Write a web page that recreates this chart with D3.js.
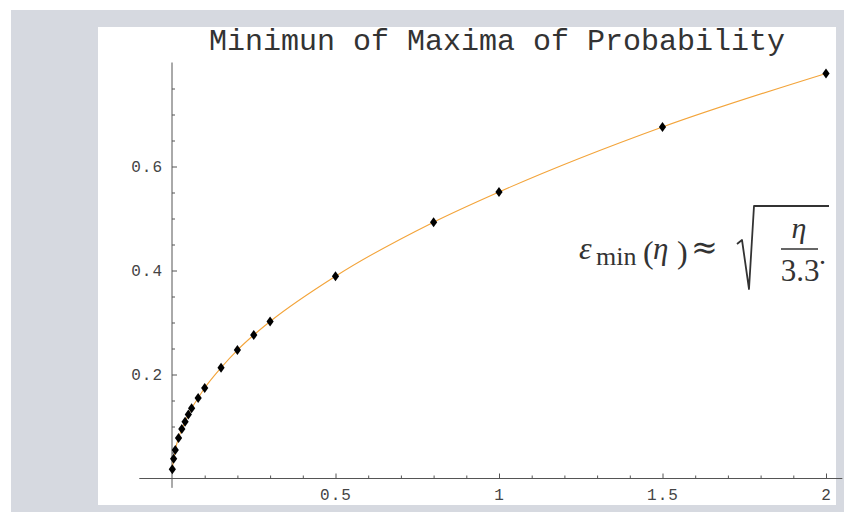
<!DOCTYPE html>
<html lang="en">
<head>
<meta charset="utf-8">
<title>Minimun of Maxima of Probability</title>
<script src="https://d3js.org/d3.v7.min.js"></script>
<style>
    html, body { margin: 0; padding: 0; background: #fff; }
    svg { display: block; }
    .tick text { font-family: "Liberation Mono", "Courier New", monospace; font-size: 16px; fill: #444; letter-spacing: 1px; }
    .tick line { stroke: #555; }
</style>
</head>
<body>
<div id="chart"></div>
<script>
    // data
    var etaValues = [0.001, 0.005, 0.01, 0.02, 0.03, 0.04, 0.05, 0.06, 0.08, 0.1, 0.15, 0.2, 0.25, 0.3, 0.5, 0.8, 1, 1.5, 2];
    var epsValues = [0.018, 0.038, 0.055, 0.078, 0.095, 0.109, 0.123, 0.135, 0.155, 0.174, 0.213, 0.247, 0.276, 0.302, 0.389, 0.493, 0.551, 0.676, 0.779];
    var xTicks = [0.5, 1, 1.5, 2];
    var xTickLabels = ["0.5", "1", "1.5", "2"];
    var yTicks = [0.2, 0.4, 0.6];
    var yTickLabels = ["0.2", "0.4", "0.6"];

    var W = 844, H = 512;
    var svg = d3.select("#chart").append("svg")
        .attr("width", W)
        .attr("height", H);

    // grey frame + white plot panel
    svg.append("rect").attr("x", 11).attr("y", 10).attr("width", W - 11).attr("height", H - 10).attr("fill", "#d6d9e0");
    svg.append("rect").attr("x", 98).attr("y", 27).attr("width", 738).attr("height", 478).attr("fill", "#fff");

    var x = d3.scaleLinear().domain([0, 2]).range([172, 826]);
    var y = d3.scaleLinear().domain([0, 0.8]).range([478.5, 62.5]);

    // title
    svg.append("text")
        .attr("x", 497).attr("y", 50)
        .attr("text-anchor", "middle")
        .style("font-family", "'Liberation Mono', 'Courier New', monospace")
        .style("font-size", "30px")
        .style("fill", "#333")
        .text("Minimun of Maxima of Probability");

    // axis lines
    svg.append("line")
        .attr("x1", x(-0.1)).attr("x2", x(2.05))
        .attr("y1", y(0)).attr("y2", y(0))
        .attr("stroke", "#555");
    svg.append("line")
        .attr("x1", x(0)).attr("x2", x(0))
        .attr("y1", y(-0.018)).attr("y2", y(0.8))
        .attr("stroke", "#555");

    // minor ticks
    var xMinor = d3.range(1, 20).map(function (i) { return i / 10; })
        .filter(function (v) { return xTicks.indexOf(v) < 0; });
    var yMinor = d3.range(1, 16).map(function (i) { return i / 20; })
        .filter(function (v) { return yTicks.indexOf(Math.round(v * 100) / 100) < 0; });

    svg.append("g")
        .attr("transform", "translate(0," + y(0) + ")")
        .call(d3.axisBottom(x).tickValues(xMinor).tickSize(-3).tickFormat(""))
        .call(function (g) { g.select(".domain").remove(); });
    svg.append("g")
        .attr("transform", "translate(" + x(0) + ",0)")
        .call(d3.axisLeft(y).tickValues(yMinor).tickSize(-3).tickFormat(""))
        .call(function (g) { g.select(".domain").remove(); });

    // major ticks with labels
    svg.append("g")
        .attr("transform", "translate(0," + y(0) + ")")
        .call(d3.axisBottom(x).tickValues(xTicks).tickSize(-5).tickPadding(10)
            .tickFormat(function (d, i) { return xTickLabels[i]; }))
        .call(function (g) { g.select(".domain").remove(); });
    svg.append("g")
        .attr("transform", "translate(" + x(0) + ",0)")
        .call(d3.axisLeft(y).tickValues(yTicks).tickSize(-5).tickPadding(9)
            .tickFormat(function (d, i) { return yTickLabels[i]; }))
        .call(function (g) { g.select(".domain").remove(); });

    // orange fit line through the points
    var pts = etaValues.map(function (v, i) { return [v, epsValues[i]]; });
    var line = d3.line()
        .x(function (d) { return x(d[0]); })
        .y(function (d) { return y(d[1]); })
        .curve(d3.curveMonotoneX);
    svg.append("path")
        .datum(pts)
        .attr("d", line)
        .attr("fill", "none")
        .attr("stroke", "#f3a43a")
        .attr("stroke-width", 1.1);

    // diamond markers
    var diamond = {
        draw: function (ctx, size) {
            var h = 5, w = 3.6;
            ctx.moveTo(0, -h); ctx.lineTo(w, 0); ctx.lineTo(0, h); ctx.lineTo(-w, 0); ctx.closePath();
        }
    };
    svg.selectAll(".pt")
        .data(pts)
        .enter()
        .append("path")
        .attr("class", "pt")
        .attr("transform", function (d) { return "translate(" + x(d[0]) + "," + y(d[1]) + ")"; })
        .attr("d", d3.symbol().type(diamond))
        .attr("fill", "#000");

    // formula annotation
    var f = svg.append("g")
        .style("font-family", "'Liberation Serif', 'DejaVu Serif', serif")
        .style("fill", "#333");
    f.append("text").attr("x", 579).attr("y", 259).style("font-size", "32px").style("font-style", "italic").text("ε");
    f.append("text").attr("x", 596).attr("y", 265).style("font-size", "26px").text("min");
    f.append("text").attr("x", 643).attr("y", 263).style("font-size", "32px").text("(");
    f.append("text").attr("x", 653).attr("y", 259).style("font-size", "31px").style("font-style", "italic").text("η");
    f.append("text").attr("x", 677).attr("y", 263).style("font-size", "32px").text(")");
    f.append("text").attr("x", 691).attr("y", 258).style("font-family", "'DejaVu Serif', serif").style("font-size", "32px").text("≈");
    f.append("path")
        .attr("d", "M737,244 L742,240 L749,289 L754,206 L829,206")
        .attr("fill", "none")
        .attr("stroke", "#333")
        .attr("stroke-width", 1.8)
        .attr("stroke-linejoin", "round");
    f.append("text").attr("x", 799).attr("y", 238).attr("text-anchor", "middle").style("font-size", "30px").style("font-style", "italic").text("η");
    f.append("line").attr("x1", 781).attr("x2", 818).attr("y1", 249).attr("y2", 249).attr("stroke", "#333").attr("stroke-width", 1.3);
    f.append("text").attr("x", 800).attr("y", 281).attr("text-anchor", "middle").style("font-size", "31px").text("3.3");
    f.append("text").attr("x", 819).attr("y", 264).style("font-size", "28px").text(".");
</script>
</body>
</html>
